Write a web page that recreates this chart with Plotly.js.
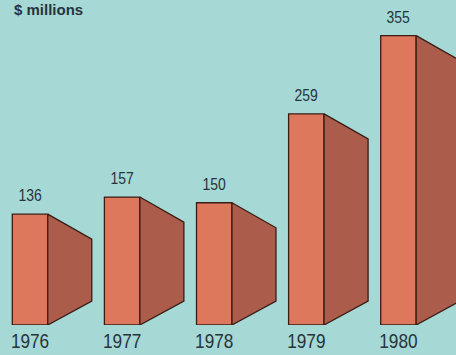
<!DOCTYPE html>
<html>
<head>
<meta charset="utf-8">
<script src="https://cdn.plot.ly/plotly-3.0.1.min.js"></script>
<style>
  html, body { margin: 0; padding: 0; background: #a6d8d5; }
  #chart { width: 456px; height: 355px; }
</style>
</head>
<body>
<div id="chart"></div>
<script>
// ---- data ----
const years = ["1976", "1977", "1978", "1979", "1980"];
const values = [136, 157, 150, 259, 355];
const unitLabel = "$ millions";

// ---- styling ----
const BG = "#a6d8d5";
const FRONT = "#de785c";
const SIDE = "#ab5c4b";
const EDGE = "#3b1c14";
const TEXT = "#26343c";
const SANS = "Liberation Sans, Arial, sans-serif";
const NARROW_RATIO = 0.82;   // emulate a narrow (condensed) face

const pos = years.map((_, i) => i);
const barW = 0.385;     // front face width (x units)
const depthX = 0.478;   // side face horizontal depth (x units)
const dropTop = 30.7;   // side face top drop (y units)
const riseBot = 29.4;   // side face bottom rise (y units)

const traces = [];

// side faces (perspective trapezoids), built from the data values
values.forEach((v, i) => {
  const x0 = pos[i] + barW / 2;
  const x1 = x0 + depthX;
  traces.push({
    type: "scatter",
    mode: "lines",
    x: [x0, x1, x1, x0, x0],
    y: [v, v - dropTop, riseBot, 0, v],
    fill: "toself",
    fillcolor: SIDE,
    line: { color: EDGE, width: 1.3 },
    hoverinfo: "skip",
    showlegend: false
  });
});

// front faces
traces.push({
  type: "bar",
  x: pos,
  y: values,
  width: barW,
  marker: { color: FRONT, line: { color: EDGE, width: 1.3 } },
  hoverinfo: "skip",
  showlegend: false
});

const annotations = values.map((v, i) => ({
  x: pos[i], y: v, xref: "x", yref: "y",
  text: String(v),
  showarrow: false,
  xanchor: "center", yanchor: "bottom",
  yshift: 7,
  font: { family: SANS, size: 17, color: TEXT }
}));

annotations.push({
  x: 12 / 456, y: 1, xref: "paper", yref: "paper",
  text: "<b>" + unitLabel + "</b>",
  showarrow: false,
  xanchor: "left", yanchor: "top",
  yshift: 1,
  font: { family: SANS, size: 15, color: TEXT }
});

const layout = {
  width: 456, height: 355,
  margin: { l: 0, r: 0, t: 0, b: 30, pad: 0 },
  paper_bgcolor: BG,
  plot_bgcolor: BG,
  showlegend: false,
  xaxis: {
    range: [-0.326, 4.625],
    tickmode: "array",
    tickvals: pos,
    ticktext: years,
    showgrid: false, zeroline: false, showline: false,
    ticks: "",
    ticklabelstandoff: 1,
    tickfont: { family: SANS, size: 21, color: TEXT },
    fixedrange: true
  },
  yaxis: {
    range: [0, 398.8],
    visible: false,
    showgrid: false, zeroline: false,
    fixedrange: true
  },
  annotations: annotations
};

function narrow(el) {
  try {
    const w = el.getComputedTextLength();
    if (w > 0) {
      el.setAttribute("textLength", (w * NARROW_RATIO).toFixed(2));
      el.setAttribute("lengthAdjust", "spacingAndGlyphs");
    }
  } catch (e) {}
}

Plotly.newPlot("chart", traces, layout, { staticPlot: true, displayModeBar: false })
  .then(gd => {
    gd.querySelectorAll(".xtick text").forEach(narrow);
    const ann = gd.querySelectorAll(".annotation-text");
    ann.forEach((el, i) => { if (i < values.length) narrow(el); });
  });
</script>
</body>
</html>
